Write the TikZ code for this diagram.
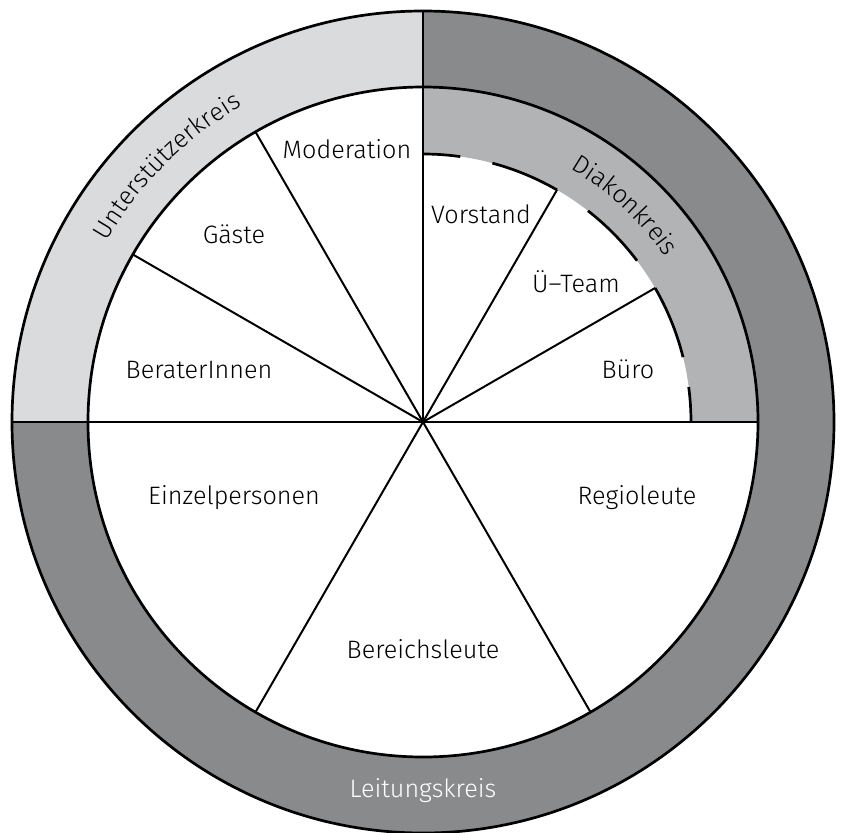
\documentclass[tikz,border=0pt]{standalone}
\usepackage{fontspec}
\setmainfont{Fira Sans Light}
\usetikzlibrary{decorations.text}
\definecolor{leitgrey}{RGB}{137,138,140}
\definecolor{diakgrey}{RGB}{178,179,181}
\definecolor{untergrey}{RGB}{218,219,221}
\def\ringseg[#1](#2:#3)(#4:#5){\fill[#1] (#2:#5) arc (#2:#3:#5) -- (#3:#4) arc (#3:#2:#4) -- cycle;}
\tikzset{
	lbl/.style={anchor=base, inner sep=0pt, font=\fontsize{21.5}{25}\selectfont},
	spoke/.style={line width=1.7pt},
	rim/.style={line width=2.3pt}
}

\begin{document}
\begin{tikzpicture}[x=0.03cm, y=0.03cm, line join=round]
		%%%%% START %%%%%
		\useasboundingbox (-423,-410) rectangle (420,422);
		
		% rings
		\ringseg[untergrey](90:180)(335:411)
		\ringseg[leitgrey](-180:90)(335:411)
		\ringseg[diakgrey](0:90)(268:335)
		
		\draw[rim] (0,0) circle (411);
		\draw[rim] (0,0) circle (335);
		
		% cross
		\draw[spoke] (180:411) -- (0:335);
		\draw[spoke] (90:411) -- (0,0);
		
		% sectors
		\foreach \a in {120,150,-60,-120}
			\draw[spoke] (0,0) -- (\a:335);
		\foreach \a in {30,60}
			\draw[spoke] (0,0) -- (\a:268);
		
		% broken inner arc
		\foreach \a/\b in {90/82,75/60,52/37,30/14,7.5/0}
			\draw[rim] (\a:268) arc (\a:\b:268);
		
		% ring labels
		\path[decorate, decoration={text along path, text align=center,
			text={|\fontsize{21.5}{25}\selectfont|Unterstützerkreis}}] (180:364) arc (180:90:364);
		\path[decorate, decoration={text along path, text align=center,
			text={|\fontsize{21.5}{25}\selectfont|Diakonkreis}}] (94:293) arc (94:0:293);
		\node[lbl, text=white] (leitung) at (0,-375) {Leitungskreis};
		
		% sector labels
		\node[lbl] (moderation) at (-76,264) {Moderation};
		\node[lbl] (gaeste) at (-189,179) {Gäste};
		\node[lbl] (berater) at (-224,44) {BeraterInnen};
		\node[lbl] (vorstand) at (58,199) {Vorstand};
		\node[lbl] (uteam) at (153,130) {Ü–Team};
		\node[lbl] (buero) at (205,44) {Büro};
		\node[lbl] (einzel) at (-189,-82) {Einzelpersonen};
		\node[lbl] (regio) at (214,-82) {Regioleute};
		\node[lbl] (bereich) at (0,-236) {Bereichsleute};
		%%%%% END %%%%%
\end{tikzpicture}
\end{document}
